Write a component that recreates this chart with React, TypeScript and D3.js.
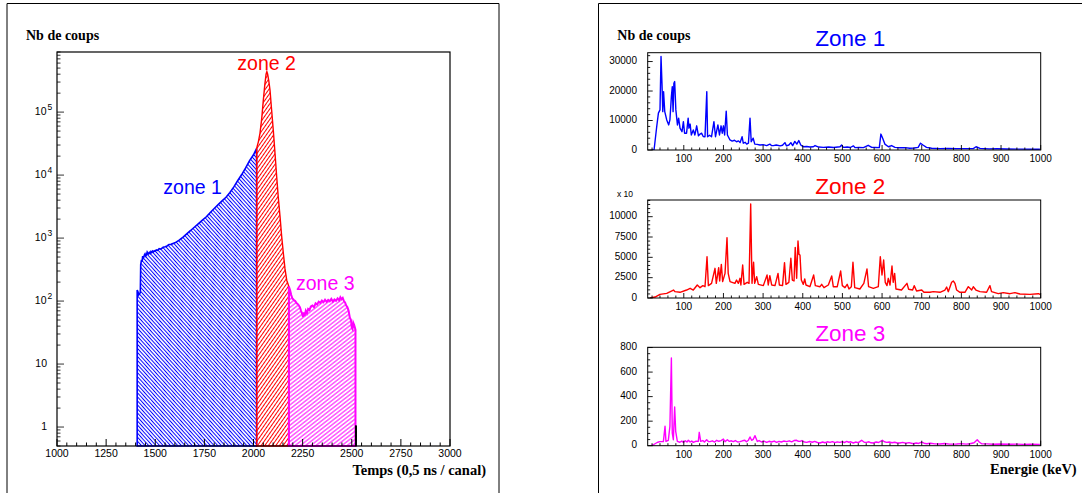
import React from 'react';
import * as d3 from 'd3';

// ---------- Left panel data: time spectrum (channel, counts) ----------
const timeZone1: [number, number][] = [
  [1408, 150], [1412, 140], [1416, 125], [1420, 130], [1424, 138], [1426, 380], [1430, 450],
  [1433, 420], [1436, 520], [1439, 480], [1442, 500], [1445, 540], [1448, 560], [1452, 520],
  [1455, 540], [1459, 600], [1462, 580], [1466, 560], [1470, 590], [1474, 570], [1478, 610],
  [1482, 590], [1486, 620], [1490, 600], [1495, 630], [1500, 620], [1505, 650], [1512, 640],
  [1520, 680], [1528, 670], [1540, 715], [1550, 730], [1560, 750], [1570, 790], [1580, 795],
  [1600, 840], [1620, 920], [1640, 1030], [1660, 1170], [1680, 1320], [1700, 1500], [1720, 1700],
  [1740, 1930], [1760, 2180], [1780, 2550], [1800, 2950], [1820, 3400], [1840, 3900], [1860, 4450],
  [1880, 5300], [1900, 6500], [1920, 8200], [1940, 10200], [1960, 13000], [1980, 17000],
  [2000, 21000], [2016, 26500],
];
const timeZone2: [number, number][] = [
  [2016, 26500], [2025, 34000], [2033, 46000], [2042, 80000], [2050, 155000], [2058, 280000],
  [2064, 400000], [2068, 440000], [2072, 400000], [2078, 310000], [2084, 223000], [2092, 110000],
  [2101, 50000], [2110, 21000], [2118, 9400], [2126, 4500], [2135, 2200], [2143, 1100],
  [2152, 570], [2160, 330], [2169, 215], [2180, 170],
];
const timeZone3: [number, number][] = [
  [2180, 170], [2186, 150], [2192, 125], [2198, 110], [2205, 104], [2212, 100], [2220, 92],
  [2228, 88], [2236, 80], [2242, 70], [2248, 62], [2252, 56], [2256, 66], [2260, 58], [2266, 70],
  [2272, 64], [2278, 75], [2285, 72], [2292, 82], [2300, 85], [2308, 80], [2316, 92], [2324, 88],
  [2332, 98], [2340, 94], [2348, 102], [2356, 96], [2364, 105], [2372, 97], [2380, 104],
  [2388, 99], [2396, 108], [2404, 98], [2412, 106], [2420, 101], [2428, 110], [2436, 103],
  [2442, 115], [2448, 107], [2454, 112], [2460, 100], [2466, 95], [2472, 85], [2478, 80],
  [2484, 70], [2490, 55], [2496, 50], [2500, 38], [2504, 36], [2508, 45], [2512, 42],
  [2516, 38], [2519, 35],
];
const timeTail: [number, number][] = [[2519, 1.05], [2524, 1.05]];
const timeTicks = [1000, 1250, 1500, 1750, 2000, 2250, 2500, 2750, 3000];
const logLabels = [1, 10, 100, 1000, 10000, 100000];

// ---------- Right panels data: energy spectra (keV, counts) ----------
const energyZone1: [number, number][] = [
  [19, 0], [25, 0], [31.7, 7900], [36, 12500], [40, 13600], [42.6, 31700], [45, 22600], [47, 13000],
  [49, 19800], [52, 13000], [57, 10200], [62, 8500], [65, 10200], [68.7, 18100], [71, 21500],
  [73, 13000], [75, 22600], [77, 23200], [80, 13600], [84, 8500], [87, 10800], [90.5, 7400],
  [95.5, 6200], [99, 9600], [102, 5700], [107, 5700], [111, 10800], [113, 7400], [116, 8800],
  [119, 5100], [124, 6800], [128, 5100], [132.5, 8200], [137, 4800], [141, 5400], [145, 5700],
  [149, 4600], [153.5, 4500], [158, 19800], [160, 4500], [165, 5000], [170, 4500], [176, 9600],
  [180, 4500], [186, 8500], [190, 5100], [194, 8200], [197, 5700], [200, 8200], [203, 5100],
  [207, 13200], [210, 5100], [216.5, 3400], [222, 3000], [228, 3300], [233, 2800], [238, 3100],
  [242, 2500], [247, 4500], [250, 2300], [255, 2600], [258.6, 2000], [263, 2300], [267, 10800],
  [270, 2800], [275, 4000], [279, 2000], [285, 1900], [292, 1700], [300, 1800], [309, 1500],
  [317, 2000], [321, 1500], [326, 1500], [333, 1700], [343, 1400], [349, 1600], [355, 2500],
  [359, 1400], [365, 1700], [370, 2500], [374.5, 1500], [380, 2900], [385, 2000], [390, 3200],
  [395, 1700], [401, 1100], [410, 1200], [418, 1000], [426.6, 1100], [431, 1500], [440, 1000],
  [452, 900], [465, 1000], [478, 850], [494, 1100], [498, 1700], [502, 900], [512, 1000],
  [520, 850], [527.5, 1400], [532, 800], [542, 900], [553, 800], [565, 1600], [574, 900],
  [583, 850], [593, 800], [597, 5400], [601.5, 4000], [607, 2000], [616, 1100], [624, 1500],
  [632.5, 900], [645, 750], [657, 800], [670, 600], [681, 700], [691, 900], [697, 2300],
  [704, 1600], [712, 900], [725, 600], [746, 450], [766, 500], [788, 450], [810, 480], [830, 450],
  [837, 1100], [847, 560], [870, 380], [890, 400], [914, 340], [950, 300], [998, 230],
];
const energyZone2: [number, number][] = [
  [15, 0], [27.5, 120], [40, 450], [57, 570], [74, 980], [78, 780], [90.5, 700], [107, 980],
  [116, 1190], [124, 980], [134, 1600], [141, 1270], [148, 1520], [153.5, 1390], [158.6, 5080],
  [162, 1520], [170, 1800], [178.7, 3650], [182, 1800], [188, 3730], [190.5, 2090], [194.7, 4140],
  [198, 2010], [204, 3030], [209, 7420], [212, 3030], [216.6, 2010], [229, 1800], [233, 2210],
  [237.6, 1800], [241.8, 2420], [244, 1600], [248.5, 4060], [252, 1680], [260, 1930],
  [264.5, 1800], [268.7, 11560], [272, 1800], [276, 4390], [278.7, 1800], [283.8, 2620],
  [288, 1680], [300.6, 1520], [310, 2830], [313, 1600], [317, 2750], [321.6, 1600], [330, 1520],
  [337.6, 3030], [341, 1600], [349, 1520], [354, 4350], [357.7, 1680], [365, 1930], [370, 4880],
  [373.7, 2210], [378, 2090], [381, 6230], [384.6, 2420], [388, 7000], [390.5, 5370], [393, 5290],
  [396.4, 2210], [401.4, 1680], [405, 2340], [408, 1600], [418, 1390], [427.5, 2830],
  [431.7, 1520], [443.5, 1390], [447.7, 1680], [453.5, 1270], [464.5, 1600], [473, 2710],
  [477, 1390], [487, 1390], [495.6, 3320], [499.8, 1520], [506.5, 1270], [512, 1680],
  [516.6, 1110], [522.5, 1390], [526.6, 4390], [531, 1270], [544, 1110], [554, 1800], [562, 3570],
  [566, 1390], [578, 1190], [590.5, 1390], [595.5, 5080], [599.8, 2830], [604, 4670], [608, 1930],
  [612.4, 1520], [615.7, 2420], [620, 1600], [625, 3940], [628, 1930], [631.7, 3030], [635, 1110],
  [649, 980], [662.8, 1800], [667, 1070], [677, 980], [681, 1520], [687, 860], [700, 980],
  [705.6, 700], [720.8, 700], [729, 780], [746, 700], [758.6, 980], [762.8, 1350], [767, 780],
  [775.4, 1930], [779.6, 2090], [783.8, 1800], [788, 980], [796.4, 700], [809, 700], [817.4, 1390],
  [821.6, 1190], [826, 980], [830, 1390], [836.7, 980], [846.8, 780], [863.6, 700], [872, 1520],
  [876, 780], [893, 530], [905.6, 660], [922.5, 530], [935, 660], [947.7, 490], [972.9, 450],
  [994, 530], [1000, 410],
];
const energyZone3: [number, number][] = [
  [19, 0], [27.5, 16], [34, 28], [40, 33], [48.5, 33], [52.7, 158], [55, 35], [61, 44], [65, 158],
  [68.7, 715], [71, 103], [73.7, 49], [77, 315], [79.6, 117], [83.8, 35], [90, 28], [95, 38],
  [99, 27], [104, 40], [108, 30], [111.5, 44], [116, 30], [120, 38], [124, 27], [130, 36],
  [136.7, 35], [139, 109], [142.6, 35], [148, 42], [152, 30], [157.7, 49], [162, 34], [166, 33],
  [172, 40], [178, 30], [183, 44], [188, 36], [194, 42], [199.8, 54], [204, 33], [210, 49],
  [215, 35], [220, 40], [225, 33], [230, 42], [236, 30], [241.8, 33], [248, 40], [254, 44],
  [258, 32], [263, 45], [267, 71], [271, 44], [275, 52], [279.6, 82], [285.5, 35], [290, 42],
  [296, 30], [302, 38], [309, 27], [315, 36], [321, 30], [328, 38], [334, 27], [340, 35],
  [346, 30], [352, 38], [359.4, 33], [366, 40], [372, 32], [378, 42], [384.6, 44], [389, 36],
  [393, 35], [398, 42], [404, 30], [410, 27], [417, 34], [424, 28], [430, 35], [437, 26],
  [443.5, 22], [450, 30], [456, 24], [462, 32], [468.7, 27], [475, 33], [481, 25], [487, 31],
  [494, 27], [500, 33], [505, 26], [510.7, 35], [516, 28], [521, 32], [527.5, 22], [533, 30],
  [540, 25], [548.5, 44], [555, 28], [561, 27], [567, 32], [572, 24], [578, 22], [585, 30],
  [591, 26], [600.6, 44], [606, 32], [611.5, 27], [618, 30], [625, 24], [632, 28], [638, 22],
  [645, 22], [652, 27], [660, 20], [668, 25], [678.7, 16], [686, 22], [692, 18], [699.8, 30],
  [706, 20], [712.4, 16], [722, 20], [733, 15], [746, 14], [758, 18], [770, 13], [788, 14],
  [800, 17], [812, 13], [821.6, 16], [832, 24], [840, 49], [845, 30], [851, 16], [865, 15],
  [880, 12], [897, 14], [920, 12], [940, 13], [956, 11], [975, 12], [998, 11],
];
const energyTicks = [100, 200, 300, 400, 500, 600, 700, 800, 900, 1000];
const zone1YTicks = [0, 10000, 20000, 30000];
const zone2YTicks = [0, 2500, 5000, 7500, 10000];
const zone3YTicks = [0, 200, 400, 600, 800];
const zoneTitles = ['Zone 1', 'Zone 2', 'Zone 3'];

const BLUE = '#0000ff';
const RED = '#ff0000';
const MAGENTA = '#ff00ff';
const SANS = '"Liberation Sans", Arial, Helvetica, sans-serif';
const SERIF = '"Liberation Serif", "Times New Roman", serif';

function LeftPanel() {
  const x = d3.scaleLinear().domain([1000, 3000]).range([57, 450]);
  const y = d3.scaleLog().domain([0.5, 9e5]).range([446, 52]);
  const base = y.range()[0];
  const area = d3
    .area<[number, number]>()
    .x((d) => x(d[0]))
    .y0(base)
    .y1((d) => y(d[1]));

  const xMinor = d3.range(1000, 3001, 50);
  const yMinor: number[] = [];
  for (let e = -1; e <= 5; e++) {
    for (let k = 1; k <= 9; k++) {
      const v = k * Math.pow(10, e);
      if (v >= 0.5 && v <= 9e5) yMinor.push(v);
    }
  }

  return (
    <g>
      <defs>
        <pattern id="hBlue" patternUnits="userSpaceOnUse" width="10" height="2.7" patternTransform="rotate(48)">
          <line x1="0" y1="1.35" x2="10" y2="1.35" stroke={BLUE} strokeWidth="1" />
        </pattern>
        <pattern id="hRed" patternUnits="userSpaceOnUse" width="10" height="3" patternTransform="rotate(-55)">
          <line x1="0" y1="1.5" x2="10" y2="1.5" stroke={RED} strokeWidth="1" />
        </pattern>
        <pattern id="hMag" patternUnits="userSpaceOnUse" width="10" height="3.2" patternTransform="rotate(-38)">
          <line x1="0" y1="1.6" x2="10" y2="1.6" stroke={MAGENTA} strokeWidth="1" />
        </pattern>
      </defs>

      <path d={area(timeZone1) || ''} fill="url(#hBlue)" stroke={BLUE} strokeWidth={1.6} />
      <path d={area(timeZone2) || ''} fill="url(#hRed)" stroke={RED} strokeWidth={1.4} />
      <path d={area(timeZone3) || ''} fill="url(#hMag)" stroke={MAGENTA} strokeWidth={2} />
      <path d={area(timeTail) || ''} fill="#000" stroke="#000" strokeWidth={1} />

      <rect x={57} y={52} width={393} height={394} fill="none" stroke="#000" strokeWidth={1.2} />

      {xMinor.map((t) => {
        const major = t % 250 === 0;
        return <line key={'xt' + t} x1={x(t)} x2={x(t)} y1={base} y2={base - (major ? 7 : 3.5)} stroke="#000" strokeWidth={1} />;
      })}
      {yMinor.map((v, i) => {
        const major = Math.abs(Math.log10(v) - Math.round(Math.log10(v))) < 1e-9;
        return <line key={'yt' + i} x1={57} x2={57 + (major ? 7 : 3.5)} y1={y(v)} y2={y(v)} stroke="#000" strokeWidth={0.8} />;
      })}

      {timeTicks.map((t) => (
        <text key={'xl' + t} x={x(t)} y={454} fontSize={10.5} fontFamily={SANS} textAnchor="middle" dominantBaseline="middle">
          {t}
        </text>
      ))}
      {logLabels.map((v) => {
        const e = Math.round(Math.log10(v));
        if (e <= 1) {
          return (
            <text key={'yl' + v} x={47} y={y(v)} fontSize={10.5} fontFamily={SANS} textAnchor="end" dominantBaseline="middle">
              {v}
            </text>
          );
        }
        return (
          <g key={'yl' + v}>
            <text x={46.5} y={y(v)} fontSize={10.5} fontFamily={SANS} textAnchor="end" dominantBaseline="middle">
              10
            </text>
            <text x={47.5} y={y(v) - 4.5} fontSize={8.5} fontFamily={SANS} textAnchor="start" dominantBaseline="middle">
              {e}
            </text>
          </g>
        );
      })}

      <text x={26} y={40} fontSize={14} fontWeight="bold" fontFamily={SERIF}>Nb de coups</text>
      <text x={486} y={475} fontSize={14.5} fontWeight="bold" fontFamily={SERIF} textAnchor="end">
        Temps (0,5 ns / canal)
      </text>

      <text x={163.3} y={194} fontSize={19.5} fontFamily={SANS} fill={BLUE}>zone 1</text>
      <text x={237.3} y={70} fontSize={19.5} fontFamily={SANS} fill={RED}>zone 2</text>
      <text x={296} y={290} fontSize={19.5} fontFamily={SANS} fill={MAGENTA}>zone 3</text>
    </g>
  );
}

type PanelSpec = {
  data: [number, number][];
  color: string;
  top: number;
  bottom: number;
  max: number;
  ticks: number[];
  minor: number;
  title: string;
  titleY: number;
};

function EnergyPanel({ p, showXTitle, showYTitle, factor }: { p: PanelSpec; showXTitle: boolean; showYTitle: boolean; factor: boolean }) {
  const x = d3.scaleLinear().domain([9, 1000]).range([647.7, 1040.7]);
  const y = d3.scaleLinear().domain([0, p.max]).range([p.bottom, p.top]);
  const line = d3
    .line<[number, number]>()
    .x((d) => x(d[0]))
    .y((d) => y(d[1]));
  const xMinor = d3.range(20, 1001, 20);
  const yMinor = d3.range(0, p.max + 1e-6, p.minor);
  const majorSet = new Set(p.ticks);
  const cid = 'clip' + p.title.replace(' ', '');

  return (
    <g>
      <defs>
        <clipPath id={cid}>
          <rect x={647.7} y={p.top} width={393} height={p.bottom - p.top} />
        </clipPath>
      </defs>
      <path d={line(p.data) || ''} fill="none" stroke={p.color} strokeWidth={1.4} strokeLinejoin="round" clipPath={`url(#${cid})`} />
      <rect x={647.7} y={p.top} width={393} height={p.bottom - p.top} fill="none" stroke="#000" strokeWidth={1} />
      {xMinor.map((t) => {
        const major = t % 100 === 0;
        return <line key={'xt' + t} x1={x(t)} x2={x(t)} y1={p.bottom} y2={p.bottom - (major ? 5 : 2.5)} stroke="#000" strokeWidth={0.9} />;
      })}
      {yMinor.map((v) => {
        const major = majorSet.has(v);
        return <line key={'yt' + v} x1={647.7} x2={647.7 + (major ? 5 : 2.5)} y1={y(v)} y2={y(v)} stroke="#000" strokeWidth={0.9} />;
      })}
      {energyTicks.map((t) => (
        <text key={'xl' + t} x={x(t)} y={p.bottom + 9.5} fontSize={10} fontFamily={SANS} textAnchor="middle" dominantBaseline="middle">
          {t}
        </text>
      ))}
      {p.ticks.map((v) => (
        <text key={'yl' + v} x={637} y={y(v)} fontSize={10} fontFamily={SANS} textAnchor="end" dominantBaseline="middle">
          {v}
        </text>
      ))}
      {factor && (
        <text x={617} y={197} fontSize={8.5} fontFamily={SANS}>x 10</text>
      )}
      <text x={815.3} y={p.titleY} fontSize={22.5} fontFamily={SANS} fill={p.color}>{p.title}</text>
      {showYTitle && (
        <text x={617.3} y={40} fontSize={14} fontWeight="bold" fontFamily={SERIF}>Nb de coups</text>
      )}
      {showXTitle && (
        <text x={1076.7} y={474} fontSize={14.5} fontWeight="bold" fontFamily={SERIF} textAnchor="end">
          Energie (keV)
        </text>
      )}
    </g>
  );
}

export default function App() {
  const panels: PanelSpec[] = [
    { data: energyZone1, color: BLUE, top: 52.7, bottom: 150, max: 33000, ticks: zone1YTicks, minor: 2000, title: zoneTitles[0], titleY: 45.7 },
    { data: energyZone2, color: RED, top: 200, bottom: 298, max: 12050, ticks: zone2YTicks, minor: 500, title: zoneTitles[1], titleY: 194 },
    { data: energyZone3, color: MAGENTA, top: 347.3, bottom: 445.7, max: 802, ticks: zone3YTicks, minor: 50, title: zoneTitles[2], titleY: 340.7 },
  ];
  return (
    <div style={{ position: 'absolute', left: 0, top: 0 }}>
      <svg width={1082} height={493} style={{ display: 'block', background: '#fff' }}>
        <path d="M7,493 V3.5 H499 V493" fill="none" stroke="#000" strokeWidth={1} />
        <path d="M598.5,493 V3.5 H1082" fill="none" stroke="#000" strokeWidth={1} />
        <LeftPanel />
        {panels.map((p, i) => (
          <EnergyPanel key={i} p={p} showXTitle={i === 2} showYTitle={i === 0} factor={i === 1} />
        ))}
      </svg>
    </div>
  );
}
